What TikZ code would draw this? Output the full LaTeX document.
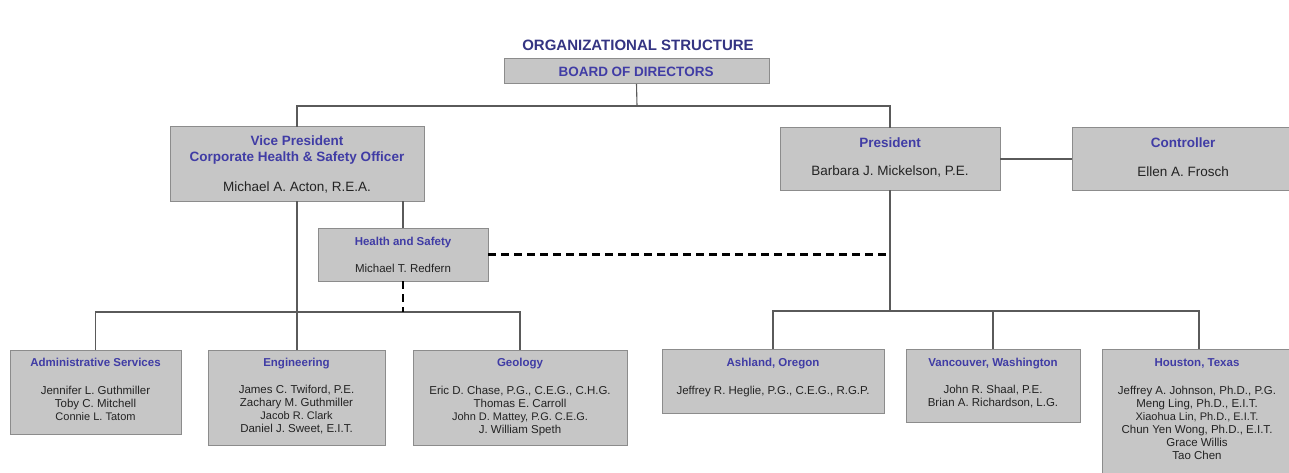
\documentclass[tikz,border=0pt]{standalone}
\usepackage{fontspec}
\setmainfont{Liberation Sans}
\usetikzlibrary{calc}

\definecolor{boxfill}{RGB}{198,198,198}
\definecolor{boxline}{RGB}{140,140,140}
\definecolor{headblue}{RGB}{64,60,165}
\definecolor{titleblue}{RGB}{52,52,130}
\definecolor{wirecol}{RGB}{90,90,90}
\definecolor{inkcol}{RGB}{35,35,35}

% An organisational unit: name, left, top, right, bottom (in pt, y downwards)
\newcommand\orgbox[5]{%
  \node[orgunit, minimum width={(#4-#2)*1pt}, minimum height={(#5-#3)*1pt}]
    (#1) at ({(#2+#4)/2},{(#3+#5)/2}) {};}

\begin{document}
\begin{tikzpicture}[x=1pt, y=-1pt,
  orgunit/.style={draw=boxline, fill=boxfill, line width=1pt, inner sep=0pt, outer sep=0pt},
  charttitle/.style={text=titleblue, inner sep=0pt, text height=11pt, text depth=0pt,
    font=\bfseries\fontsize{15}{18}\selectfont},
  head/.style={text=headblue, inner sep=0pt, text height=9.7pt, text depth=0pt,
    font=\bfseries\fontsize{13.5}{16}\selectfont},
  person/.style={text=inkcol, inner sep=0pt, text height=9.7pt, text depth=0pt,
    font=\fontsize{13.5}{16}\selectfont},
  subhead/.style={text=headblue, inner sep=0pt, text height=8.3pt, text depth=0pt,
    font=\bfseries\fontsize{11.5}{13}\selectfont},
  staff/.style={text=inkcol, inner sep=0pt, align=center, anchor=north,
    font=\fontsize{11.5}{13}\selectfont},
  wire/.style={draw=wirecol, line width=1.1pt},
  liaison/.style={draw=black, line width=2.3pt, dash pattern=on 8pt off 5pt}
]
\useasboundingbox (0,0) rectangle (1289,473);
\newcommand\minor[1]{{\fontsize{11}{13}\selectfont #1}}

% ---------- title ----------
\node[charttitle] (title) at (638,45) {ORGANIZATIONAL STRUCTURE};

% ---------- boxes ----------
\orgbox{board}{504}{59}{769}{84}
\orgbox{vp}{170}{127}{424}{201}
\orgbox{pres}{780}{128}{1000}{190}
\orgbox{ctrl}{1072}{128}{1296}{190}
\orgbox{hs}{318}{228}{488}{281}
\orgbox{admin}{10}{350}{181}{434}
\orgbox{eng}{208}{350}{385}{445}
\orgbox{geo}{413}{350}{627}{445}
\orgbox{ash}{662}{349}{884}{413}
\orgbox{van}{906}{349}{1080}{422}
\orgbox{hou}{1102}{349}{1296}{480}

% ---------- connectors ----------
\coordinate (busT) at (637,106);
\coordinate (busL) at (297,312);
\coordinate (busR) at (890,311);
\draw[wire] (board.south) -- (busT);
\draw[wire] (vp.north) |- (busT) -| (pres.north);
\draw[wire] (pres.east) -- (ctrl.west);
\draw[wire] (hs.north) -- (hs.north |- vp.south);
\draw[wire] (vp.south) -- (vp.south |- eng.north);
\draw[wire] (admin.north) |- (geo.north |- busL) -- (geo.north);
\draw[wire] (pres.south) -- (busR);
\draw[wire] (ash.north) |- (hou.north |- busR) -- (hou.north);
\draw[wire] (van.north) -- (van.north |- busR);
\draw[liaison] (hs.east) -- (hs.east -| pres.south);
\draw[liaison] (hs.south) -- (hs.south |- busL);

% ---------- upper texts ----------
\node[head] (boardT) at (636,72) {BOARD OF DIRECTORS};
\node[head] (vpT1) at (297,141) {Vice President};
\node[head] (vpT2) at (297,157) {Corporate Health \& Safety Officer};
\node[person] (vpN) at (297,187) {Michael A. Acton, R.E.A.};
\node[head] (presT) at (890,143) {President};
\node[person] (presN) at (890,171) {Barbara J. Mickelson, P.E.};
\node[head] (ctrlT) at (1183,143) {Controller};
\node[person] (ctrlN) at (1183,172) {Ellen A. Frosch};
\node[subhead] (hsT) at (403,241) {Health and Safety};
\node[staff, anchor=center, text height=8.3pt, text depth=0pt] (hsN) at (403,268) {Michael T. Redfern};

% ---------- lower texts ----------
\node[subhead] (adminT) at (95.5,362) {Administrative Services};
\node[staff] (adminN) at (95.5,385.5) {Jennifer L. Guthmiller\\Toby C. Mitchell\\\minor{Connie L. Tatom}};

\node[subhead] (engT) at (296.5,362) {Engineering};
\node[staff] (engN) at (296.5,384.5) {James C. Twiford, P.E.\\Zachary M. Guthmiller\\\minor{Jacob R. Clark}\\Daniel J. Sweet, E.I.T.};

\node[subhead] (geoT) at (520,362) {Geology};
\node[staff] (geoN) at (520,385.5) {Eric D. Chase, P.G., C.E.G., C.H.G.\\Thomas E. Carroll\\\minor{John D. Mattey, P.G. C.E.G.}\\J. William Speth};

\node[subhead] (ashT) at (773,362) {Ashland, Oregon};
\node[staff] (ashN) at (773,385.5) {Jeffrey R. Heglie, P.G., C.E.G., R.G.P.};

\node[subhead] (vanT) at (993,362) {Vancouver, Washington};
\node[staff] (vanN) at (993,384.5) {John R. Shaal, P.E.\\Brian A. Richardson, L.G.};

\node[subhead] (houT) at (1197,362) {Houston, Texas};
\node[staff] (houN) at (1197,385.5) {Jeffrey A. Johnson, Ph.D., P.G.\\Meng Ling, Ph.D., E.I.T.\\\minor{Xiaohua Lin, Ph.D., E.I.T.}\\Chun Yen Wong, Ph.D., E.I.T.\\Grace Willis\\Tao Chen};
\end{tikzpicture}
\end{document}
